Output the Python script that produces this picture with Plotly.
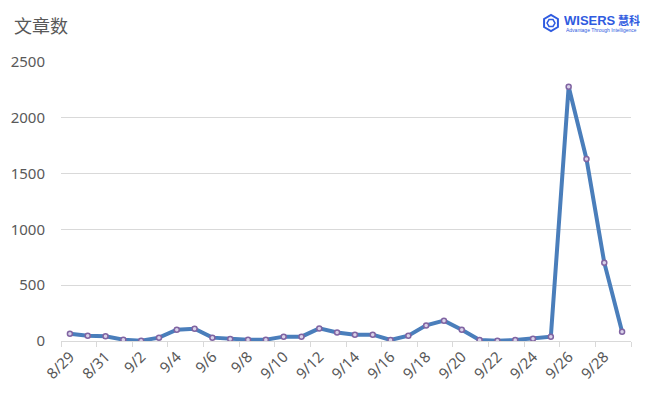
import math
import plotly.graph_objects as go

dates = ["8/29", "8/30", "8/31", "9/1", "9/2", "9/3", "9/4", "9/5", "9/6", "9/7",
         "9/8", "9/9", "9/10", "9/11", "9/12", "9/13", "9/14", "9/15", "9/16", "9/17",
         "9/18", "9/19", "9/20", "9/21", "9/22", "9/23", "9/24", "9/25", "9/26", "9/27",
         "9/28", "9/29"]
counts = [65, 47, 42, 12, 3, 30, 101, 110, 30, 18,
          12, 12, 39, 39, 113, 76, 57, 57, 9, 48,
          140, 182, 101, 9, 3, 9, 21, 39, 2279, 1631,
          702, 82]
y_ticks = [0, 500, 1000, 1500, 2000, 2500]

# page body has an 8px margin; work in screen pixels and offset
OFF = 8
W, H = 654 - OFF, 400 - OFF
left, right, top, bottom = 61, 631, 62, 341  # plot area in screen pixels
pl, pt = left - OFF, top - OFF
pr, pb = W - (right - OFF), H - (bottom - OFF)
pw, ph = W - pl - pr, H - pt - pb


def px(x):
    return (x - OFF - pl) / pw


def py(y):
    return (H - pb - (y - OFF)) / ph


fig = go.Figure()
fig.add_trace(go.Scatter(
    x=dates, y=counts, mode="lines+markers",
    line=dict(color="#4a7ebb", width=4),
    marker=dict(size=5, color="#d9d2e9", line=dict(color="#8064a2", width=1.5)),
    hoverinfo="x+y", showlegend=False,
))

fig.update_layout(
    width=W, height=H,
    margin=dict(l=pl, r=pr, t=pt, b=pb, autoexpand=False),
    paper_bgcolor="white", plot_bgcolor="white",
    font=dict(family="Noto Sans, Open Sans, sans-serif", color="#595959"),
    xaxis=dict(
        type="category", tickson="boundaries", dtick=2,
        ticks="outside", ticklen=5, tickcolor="#d9d9d9",
        showline=True, linecolor="#d9d9d9", linewidth=1,
        showgrid=False, tickangle=-45, tickfont=dict(size=15, color="#595959"),
        range=[-0.5, len(dates) - 0.5],
    ),
    yaxis=dict(
        range=[0, 2500], tickvals=y_ticks, ticktext=[str(v) for v in y_ticks],
        showgrid=True, gridcolor="#d9d9d9", gridwidth=1, zeroline=False,
        showline=False, tickfont=dict(size=15, color="#595959"), ticklabelstandoff=15,
    ),
)

fig.add_annotation(text="文章数", x=px(12), y=py(25), xref="paper", yref="paper",
                   showarrow=False, xanchor="left", yanchor="middle",
                   font=dict(family="Noto Sans CJK SC", size=18, color="#595959"))
fig.add_annotation(text="<b>WISERS</b>", x=px(562), y=py(20), xref="paper", yref="paper",
                   showarrow=False, xanchor="left", yanchor="middle", height=14,
                   font=dict(family="Liberation Sans", size=13, color="#2f5be0"))
fig.add_annotation(text="<b>慧科</b>", x=px(616), y=py(20), xref="paper", yref="paper",
                   showarrow=False, xanchor="left", yanchor="middle", height=14,
                   font=dict(family="Noto Sans CJK SC", size=11, color="#2f5be0"))
fig.add_annotation(text="Advantage Through Intelligence", x=px(564), y=py(30), xref="paper", yref="paper",
                   showarrow=False, xanchor="left", yanchor="middle", height=6,
                   font=dict(family="Liberation Sans", size=5, color="#2f5be0"))

# hexagon logo icon
cx, cy, r = 551, 23, 8
pts = [(px(cx + r * math.cos(math.pi / 6 + k * math.pi / 3)),
        py(cy + r * math.sin(math.pi / 6 + k * math.pi / 3))) for k in range(6)]
fig.add_shape(type="path", xref="paper", yref="paper",
              path="M " + " L ".join(f"{a},{b}" for a, b in pts) + " Z",
              line=dict(color="#2f5be0", width=2))
r2 = 4
pts2 = [(px(cx + r2 * math.cos(k * math.pi / 3)),
         py(cy + r2 * math.sin(k * math.pi / 3))) for k in range(6)]
fig.add_shape(type="path", xref="paper", yref="paper",
              path="M " + " L ".join(f"{a},{b}" for a, b in pts2) + " Z",
              line=dict(color="#2f5be0", width=1.5))

fig.write_html("out.html")
